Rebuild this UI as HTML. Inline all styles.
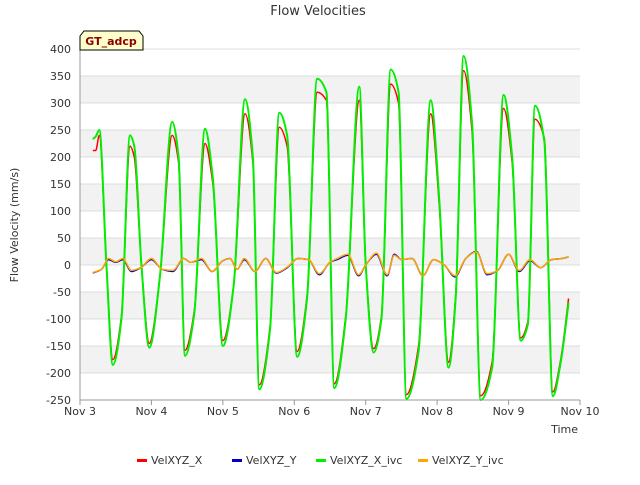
<!DOCTYPE html>
<html><head><meta charset="utf-8"><style>
body{margin:0;background:#fff;font-family:"Liberation Sans","DejaVu Sans",sans-serif}
svg text{font-family:"DejaVu Sans","Liberation Sans",sans-serif}
</style></head><body>
<svg id="chart" width="640" height="480">
<rect width="640" height="480" fill="#fff"/>
<text x="318" y="15" text-anchor="middle" font-size="13" fill="#333">Flow Velocities</text>
<g id="grid"></g>
<g id="series"></g>
<g id="axes"></g>
<g>
<path d="M80,50 L80,36 L84,31 L139,31 L143,36 L143,50 Z" fill="#ffffcc" stroke="#000"/>
<text x="111" y="45" text-anchor="middle" font-size="11" font-weight="bold" fill="#8b0000">GT_adcp</text>
</g>
<text x="18" y="225" transform="rotate(-90 18 225)" text-anchor="middle" font-size="11" fill="#333">Flow Velocity (mm/s)</text>
<text x="578" y="433" text-anchor="end" font-size="11" fill="#333">Time</text>
<g id="legend"></g>
</svg>
<script>
const dayLabels=["Nov 3","Nov 4","Nov 5","Nov 6","Nov 7","Nov 8","Nov 9","Nov 10"];
const yTicks=[-250,-200,-150,-100,-50,0,50,100,150,200,250,300,350,400];
const tX=[0.18,0.22,0.27,0.37,0.46,0.58,0.70,0.76,0.86,0.97,1.12,1.29,1.38,1.47,1.60,1.75,1.86,2.0,2.15,2.31,2.42,2.51,2.66,2.79,2.9,3.04,3.18,3.32,3.45,3.56,3.72,3.91,4.0,4.11,4.22,4.35,4.46,4.57,4.74,4.91,5.03,5.16,5.26,5.37,5.49,5.61,5.77,5.93,6.05,6.17,6.27,6.37,6.5,6.62,6.73,6.84];
const velXivc=[233,238,250,0,-185,-100,240,220,0,-153,-20,265,200,-168,-90,252,160,-150,-40,307,200,-230,-120,282,240,-170,-60,345,320,-228,-100,330,0,-162,-100,362,320,-248,-160,305,120,-190,-60,387,260,-250,-190,315,200,-140,-110,295,230,-243,-180,-70];
const velX=[212,212,240,0,-175,-95,220,200,0,-145,-20,240,190,-158,-85,225,150,-140,-40,280,190,-222,-115,255,220,-160,-55,320,305,-220,-95,305,0,-155,-95,335,300,-240,-150,280,110,-180,-55,360,245,-242,-180,290,190,-135,-105,270,235,-235,-175,-62];
const tY=[0.18,0.3,0.4,0.5,0.6,0.72,0.85,1.0,1.15,1.3,1.45,1.55,1.7,1.85,2.0,2.1,2.2,2.3,2.45,2.6,2.75,2.9,3.05,3.2,3.35,3.5,3.6,3.75,3.9,4.0,4.15,4.3,4.4,4.5,4.65,4.8,4.95,5.1,5.25,5.4,5.55,5.7,5.85,6.0,6.15,6.3,6.45,6.6,6.75,6.84];
const velY=[-15,-8,10,5,10,-12,-5,10,-8,-12,12,5,10,-12,8,12,-8,10,-12,12,-15,-5,12,10,-18,5,10,18,-20,0,20,-20,20,10,12,-20,10,0,-22,12,25,-18,-10,20,-12,8,-5,10,12,15];
const velYivc=[-14,-8,12,6,12,-10,-5,12,-8,-10,12,5,12,-12,8,12,-8,12,-12,12,-14,-4,12,10,-16,5,12,20,-18,0,22,-18,18,10,12,-20,10,0,-20,12,24,-16,-10,20,-10,10,-5,10,12,15];
const NS="http://www.w3.org/2000/svg";
const L=80,R=580,T=49,B=400;
const xs=d=>L+(R-L)*d/7, ys=v=>B-(v+250)*(B-T)/650;
function mk(tag,attrs,parent){const e=document.createElementNS(NS,tag);for(const k in attrs)e.setAttribute(k,attrs[k]);parent.appendChild(e);return e;}
const grid=document.getElementById('grid'),axes=document.getElementById('axes'),ser=document.getElementById('series'),leg=document.getElementById('legend');
for(let v=-200;v<400;v+=100){
 const r=mk('rect',{x:L,y:ys(v+50),width:R-L,height:ys(v)-ys(v+50),fill:'#f2f2f2'},grid);
 
 
}
yTicks.forEach(v=>{
 const l=mk('line',{x1:L,x2:R,y1:ys(v),y2:ys(v),stroke:'#dcdcdc'},grid);
 
 
 const t=mk('text',{x:L-9,y:ys(v)+4,'text-anchor':'end','font-size':'11',fill:'#333'},axes);
 t.textContent=v;
 
 
});
dayLabels.forEach((s,i)=>{
 const l=mk('line',{x1:xs(i),x2:xs(i),y1:B,y2:B+5,stroke:'#999'},axes);
 
 
 const t=mk('text',{x:xs(i),y:B+15,'text-anchor':'middle','font-size':'11',fill:'#333'},axes);
 t.textContent=s;
 
 
});
const ax=mk('path',{d:`M${L},${T}L${L},${B}L${R},${B}`,fill:'none',stroke:'#999'},axes);


// monotone cubic path (no overshoot)
function monoPath(P){
 const n=P.length,dx=[],s=[],m=[];
 for(let i=0;i<n-1;i++){dx[i]=P[i+1][0]-P[i][0];s[i]=(P[i+1][1]-P[i][1])/dx[i];}
 m[0]=s[0];m[n-1]=s[n-2];
 for(let i=1;i<n-1;i++){m[i]=(s[i-1]*s[i]<=0)?0:2/(1/s[i-1]+1/s[i]);}
 let d=`M${P[0][0]},${P[0][1]}`;
 for(let i=0;i<n-1;i++){
  const h=dx[i]/3;
  d+=`C${P[i][0]+h},${P[i][1]+m[i]*h} ${P[i+1][0]-h},${P[i+1][1]-m[i+1]*h} ${P[i+1][0]},${P[i+1][1]}`;
 }
 return d;
}
function line(ts,vs,color,w,name){
 const P=ts.map((t,i)=>[xs(t),ys(vs[i])]);
 const p=mk('path',{d:monoPath(P),fill:'none',stroke:color,'stroke-width':w,'stroke-linejoin':'round'},ser);
 
 
}
line(tX,velX,'#ff0000',1.5,'series-velxyz-x');
line(tY,velY,'#0000cc',1.5,'series-velxyz-y');
line(tX,velXivc,'#00ee00',2,'series-velxyz-x-ivc');
line(tY,velYivc,'#ffa500',1.5,'series-velxyz-y-ivc');
const items=[["VelXYZ_X","#ff0000",137],["VelXYZ_Y","#0000cc",232],["VelXYZ_X_ivc","#00ee00",316],["VelXYZ_Y_ivc","#ffa500",418]];
items.forEach(([n,c,x])=>{
 const g=mk('g',{},leg);
 
 
 mk('rect',{x:x,y:459,width:10,height:3,fill:c},g);
 const t=mk('text',{x:x+14,y:464,'font-size':'11',fill:'#333'},g);
 t.textContent=n;
});
</script>
</body></html>
